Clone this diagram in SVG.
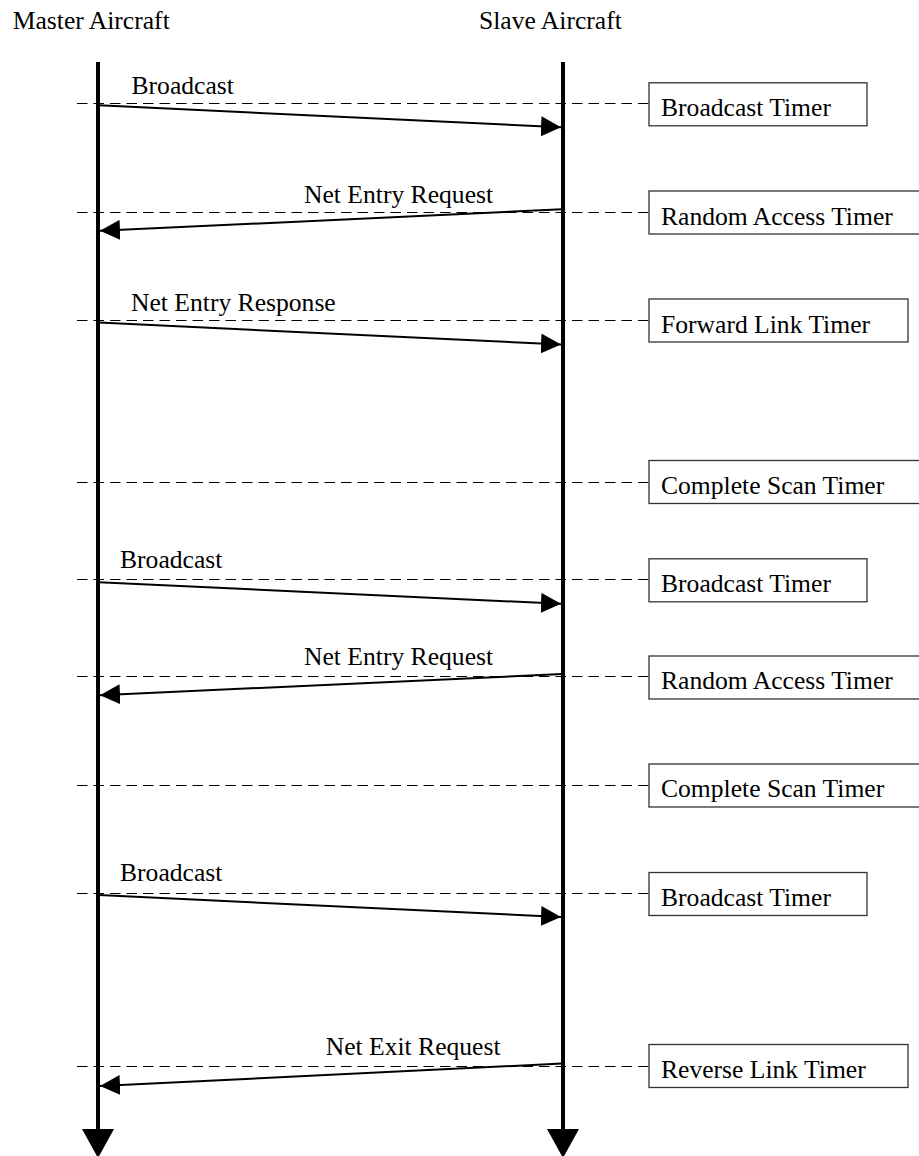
<svg xmlns="http://www.w3.org/2000/svg" width="919" height="1156" viewBox="0 0 919 1156">
  <style>
    text { font-family: "Liberation Serif", "Times New Roman", serif; font-size: 25.6px; fill: #000; }
    .life { stroke: #000; stroke-width: 4; fill: none; }
    .head { fill: #000; }
    .msg { stroke: #000; stroke-width: 2; fill: none; marker-end: url(#arrow); }
    .dash { stroke: #000; stroke-width: 1; stroke-dasharray: 10.5 6; fill: none; }
    .timer rect { fill: #fff; stroke: #333; stroke-width: 1.3; }
  </style>
  <defs>
    <marker id="arrow" markerUnits="userSpaceOnUse" markerWidth="20" markerHeight="20" refX="20" refY="10" orient="auto">
      <path d="M0,0 L20,10 L0,20 Z" fill="#000"/>
    </marker>
  </defs>
  <rect width="919" height="1156" fill="#fff"/>

  <!-- lifelines -->
  <g id="master">
    <text x="12.7" y="29">Master Aircraft</text>
    <line class="life" x1="98" y1="62" x2="98" y2="1132"/>
    <polygon class="head" points="82,1129 114,1129 98,1158"/>
  </g>
  <g id="slave">
    <text x="479" y="29">Slave Aircraft</text>
    <line class="life" x1="563" y1="62" x2="563" y2="1132"/>
    <polygon class="head" points="547,1129 579,1129 563,1158"/>
  </g>

  <!-- timer reference lines -->
  <g id="timer-lines">
    <line class="dash" x1="77" y1="103.5" x2="649" y2="103.5"/>
    <line class="dash" x1="77" y1="212.5" x2="649" y2="212.5"/>
    <line class="dash" x1="77" y1="320.5" x2="649" y2="320.5"/>
    <line class="dash" x1="77" y1="482.5" x2="649" y2="482.5"/>
    <line class="dash" x1="77" y1="579.5" x2="649" y2="579.5"/>
    <line class="dash" x1="77" y1="676.5" x2="649" y2="676.5"/>
    <line class="dash" x1="77" y1="785.5" x2="649" y2="785.5"/>
    <line class="dash" x1="77" y1="893.5" x2="649" y2="893.5"/>
    <line class="dash" x1="77" y1="1066.5" x2="649" y2="1066.5"/>
  </g>

  <!-- messages -->
  <g id="connectors">
    <line class="msg" x1="99" y1="105.3" x2="561" y2="127.3"/>
    <line class="msg" x1="562" y1="209.3" x2="100" y2="230.8"/>
    <line class="msg" x1="99" y1="322.5" x2="561" y2="344.5"/>
    <line class="msg" x1="99" y1="582.3" x2="561" y2="603.8"/>
    <line class="msg" x1="562" y1="674" x2="100" y2="695.2"/>
    <line class="msg" x1="99" y1="895" x2="561" y2="917"/>
    <line class="msg" x1="562" y1="1063.5" x2="100" y2="1086"/>
  </g>

  <g id="labels">
    <text x="131.5" y="94">Broadcast</text>
    <text x="304" y="202.5">Net Entry Request</text>
    <text x="131" y="311">Net Entry Response</text>
    <text x="120" y="567.5">Broadcast</text>
    <text x="304" y="665">Net Entry Request</text>
    <text x="120" y="881">Broadcast</text>
    <text x="325.7" y="1055">Net Exit Request</text>
  </g>

  <!-- timers -->
  <g id="timer-broadcast-1" class="timer"><rect x="649" y="82.8" width="218" height="43"/><text x="661" y="115.8">Broadcast Timer</text></g>
  <g id="timer-random-1" class="timer"><rect x="649" y="191" width="281" height="43"/><text x="661" y="224.5">Random Access Timer</text></g>
  <g id="timer-forward" class="timer"><rect x="649" y="299" width="259" height="43"/><text x="661" y="332.5">Forward Link Timer</text></g>
  <g id="timer-scan-1" class="timer"><rect x="649" y="460.5" width="281" height="43"/><text x="661" y="493.5">Complete Scan Timer</text></g>
  <g id="timer-broadcast-2" class="timer"><rect x="649" y="558.8" width="218" height="43"/><text x="661" y="591.5">Broadcast Timer</text></g>
  <g id="timer-random-2" class="timer"><rect x="649" y="656" width="281" height="43"/><text x="661" y="689">Random Access Timer</text></g>
  <g id="timer-scan-2" class="timer"><rect x="649" y="764" width="281" height="43"/><text x="661" y="797">Complete Scan Timer</text></g>
  <g id="timer-broadcast-3" class="timer"><rect x="649" y="872.5" width="218" height="43"/><text x="661" y="905.5">Broadcast Timer</text></g>
  <g id="timer-reverse" class="timer"><rect x="649" y="1044.5" width="259" height="43"/><text x="661" y="1078">Reverse Link Timer</text></g>
</svg>
